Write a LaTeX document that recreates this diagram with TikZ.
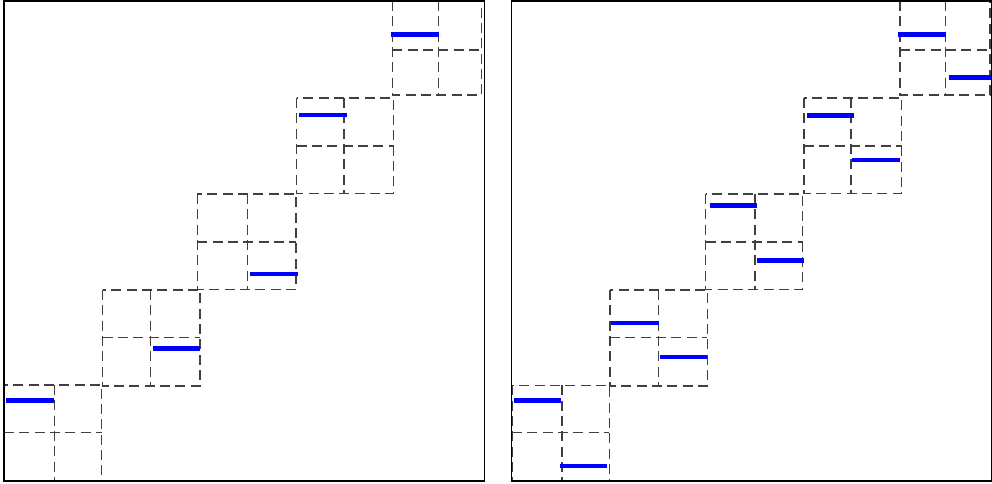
\documentclass[tikz,border=0pt]{standalone}
\tikzset{
  frame/.style={draw=black, line width=0.8pt},
  gridline/.style={draw=black!75, line width=0.8pt, dash pattern=on 7.5pt off 4pt},
  seg/.style={draw=blue, line width=3.4pt},
}
\newcommand{\gridblock}[6]{%
  \draw[gridline] (#1,#4) rectangle (#3,#6);
  \draw[gridline] (#2,#4) -- (#2,#6);
  \draw[gridline] (#1,#5) -- (#3,#5);
}
\begin{document}
\begin{tikzpicture}[x=0.75pt, y=-0.75pt]
\useasboundingbox (0,0) rectangle (992,484);
\fill[white] (0,0) rectangle (992,484);
% left panel
\gridblock{4}{54.7}{101.7}{385}{432.7}{481}
\gridblock{102.7}{150.7}{200}{290}{337.3}{386}
\gridblock{197.3}{247.3}{296}{194}{242}{289.3}
\gridblock{296.7}{344}{393.7}{98}{146}{193.3}
\gridblock{392.3}{438.3}{481.7}{1}{50}{95}
\draw[seg] (6,400.7) -- (54,400.7);
\draw[seg] (153.3,348.7) -- (200,348.7);
\draw[seg] (250,274) -- (298,274);
\draw[seg] (299,115) -- (346.7,115);
\draw[seg] (391,34.3) -- (439,34.3);
\draw[frame] (4,1) rectangle (484.5,481);
% right panel
\gridblock{512}{562}{609.3}{385.3}{432.7}{480.7}
\gridblock{610}{658.3}{707.3}{290}{337.3}{386}
\gridblock{705.7}{755}{802.7}{194}{242}{289.3}
\gridblock{804}{851}{901.7}{98}{146}{193.3}
\gridblock{900}{945.3}{990}{1}{50}{95}
\draw[seg] (513.5,400.7) -- (561,400.7);
\draw[seg] (560,466) -- (606.7,466);
\draw[seg] (611,323) -- (658.7,323);
\draw[seg] (660,357) -- (707.3,357);
\draw[seg] (710,205.3) -- (757.3,205.3);
\draw[seg] (756.7,260.7) -- (804,260.7);
\draw[seg] (806.7,115.3) -- (854,115.3);
\draw[seg] (852.3,160) -- (900,160);
\draw[seg] (898.3,34.3) -- (946,34.3);
\draw[seg] (949,77.3) -- (991,77.3);
\draw[frame] (511.7,1) rectangle (991.3,481);
\end{tikzpicture}
\end{document}
